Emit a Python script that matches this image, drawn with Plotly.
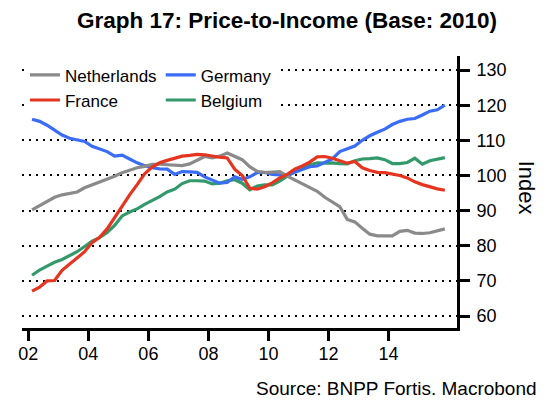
import plotly.graph_objects as go

# Quarterly observations, 2002Q1 .. 2015Q4 (index, base 2010)
years = [2002 + 0.125 + 0.25 * i for i in range(56)]

netherlands = [90.2, 91.4, 92.6, 93.8, 94.5, 95.0, 95.3, 96.5, 97.3, 98.2,
               99.0, 99.8, 100.8, 101.6, 102.2, 102.6, 103.2, 103.2, 103.0, 102.9,
               102.8, 103.3, 104.4, 105.4, 105.0, 105.5, 106.4, 105.5, 104.5, 102.5,
               101.2, 100.8, 100.9, 101.1, 99.8, 98.7, 97.6, 96.5, 95.5, 93.8,
               92.5, 91.1, 87.5, 86.8, 85.0, 83.3, 82.8, 82.8, 82.8, 84.1,
               84.4, 83.6, 83.5, 83.7, 84.2, 84.8]

germany = [116.0, 115.4, 114.3, 112.9, 111.5, 110.6, 110.1, 109.7, 108.3, 107.6,
           106.8, 105.5, 105.8, 104.7, 103.6, 102.8, 102.2, 101.9, 101.8, 100.3,
           101.1, 101.0, 100.9, 99.6, 98.8, 97.8, 98.0, 99.6, 98.9, 99.6,
           100.8, 100.9, 100.3, 100.1, 100.0, 100.9, 101.8, 102.5, 102.7, 103.7,
           104.7, 106.8, 107.7, 108.4, 110.0, 111.3, 112.3, 113.2, 114.5, 115.4,
           116.0, 116.2, 117.2, 118.3, 118.7, 120.0]

france = [67.1, 68.2, 70.0, 70.1, 73.0, 74.8, 76.5, 78.3, 80.9, 82.4,
          84.8, 88.0, 91.6, 94.5, 97.4, 100.5, 102.4, 103.6, 104.3, 105.0,
          105.5, 105.7, 106.0, 105.9, 105.5, 105.2, 105.0, 101.8, 100.0, 96.4,
          96.1, 96.8, 97.9, 99.3, 100.3, 101.8, 102.7, 103.8, 105.3, 105.4,
          104.9, 104.1, 103.5, 104.0, 102.2, 101.4, 100.9, 100.8, 100.5, 100.0,
          99.3, 98.2, 97.4, 96.7, 96.2, 95.8]

belgium = [71.6, 73.1, 74.2, 75.3, 76.1, 77.1, 78.3, 79.8, 81.3, 82.3,
           83.8, 85.8, 88.5, 89.6, 90.5, 91.8, 92.8, 94.0, 95.3, 96.1,
           97.7, 98.5, 98.5, 98.4, 97.6, 97.8, 98.5, 98.8, 97.8, 95.9,
           97.0, 97.3, 97.3, 98.4, 99.8, 101.1, 102.3, 103.0, 103.6, 103.5,
           103.6, 103.4, 103.3, 104.2, 104.7, 104.8, 105.0, 104.5, 103.4, 103.4,
           103.7, 104.9, 103.2, 104.2, 104.6, 105.1]

x_tickvals = [2002, 2004, 2006, 2008, 2010, 2012, 2014]
x_ticktext = ["02", "04", "06", "08", "10", "12", "14"]
y_tickvals = [60, 70, 80, 90, 100, 110, 120, 130]

FONT = "Liberation Sans, Arial, sans-serif"

fig = go.Figure()
# drawing order: Belgium, Germany, Netherlands, France (France on top)
fig.add_trace(go.Scatter(x=years, y=belgium, name="Belgium", mode="lines",
                         line=dict(color="#33996a", width=3.2),
                         legend="legend2", legendrank=2))
fig.add_trace(go.Scatter(x=years, y=germany, name="Germany", mode="lines",
                         line=dict(color="#3a6cf6", width=3.2),
                         legend="legend2", legendrank=1))
fig.add_trace(go.Scatter(x=years, y=netherlands, name="Netherlands", mode="lines",
                         line=dict(color="#8a8a8a", width=3.2),
                         legend="legend", legendrank=1))
fig.add_trace(go.Scatter(x=years, y=france, name="France", mode="lines",
                         line=dict(color="#e5341f", width=3.2),
                         legend="legend", legendrank=2))

legend_common = dict(orientation="v", xanchor="left", yanchor="top",
                     bgcolor="white", borderwidth=0, itemwidth=30,
                     font=dict(family=FONT, size=17, color="black"),
                     traceorder="normal", tracegroupgap=0)

# The page body adds an 8px offset, so the figure is 8px smaller than the window.
fig.update_layout(
    width=537, height=392,
    margin=dict(l=10, r=88, t=48, b=72),
    paper_bgcolor="white", plot_bgcolor="white",
    font=dict(family=FONT, color="black"),
    showlegend=True,
    title=dict(text="<b>Graph 17: Price-to-Income (Base: 2010)</b>",
               x=0.5196, xanchor="center", y=0.9694, yanchor="middle",
               xref="container", yref="container",
               font=dict(family=FONT, size=22.5, color="black")),
    legend=dict(x=0.0068, y=0.995, **legend_common),
    legend2=dict(x=0.319, y=0.995, **legend_common),
    xaxis=dict(range=[2001.79, 2016.28], tickmode="array",
               tickvals=x_tickvals, ticktext=x_ticktext,
               showgrid=False, zeroline=False,
               showline=True, linecolor="black", linewidth=3,
               ticks="outside", ticklen=10, tickwidth=3, tickcolor="black",
               ticklabelstandoff=-3,
               tickfont=dict(family=FONT, size=18, color="black")),
    yaxis=dict(range=[56.6, 134.0], side="right", tickmode="array",
               tickvals=y_tickvals,
               showgrid=True, gridcolor="black", gridwidth=2, griddash="2px,5px",
               zeroline=False,
               showline=True, linecolor="black", linewidth=3,
               ticks="outside", ticklen=10, tickwidth=3, tickcolor="black",
               ticklabelstandoff=3,
               tickfont=dict(family=FONT, size=18, color="black")),
    annotations=[
        dict(text="Index", xref="paper", yref="paper", x=1.1617, y=0.5147,
             xanchor="center", yanchor="middle", textangle=90, showarrow=False,
             font=dict(family=FONT, size=22, color="black")),
        dict(text="Source: BNPP Fortis. Macrobond", xref="paper", yref="paper",
             x=1.189, y=-0.2206, xanchor="right", yanchor="middle",
             showarrow=False, font=dict(family=FONT, size=19, color="black")),
    ],
)

fig.write_html("out.html")
